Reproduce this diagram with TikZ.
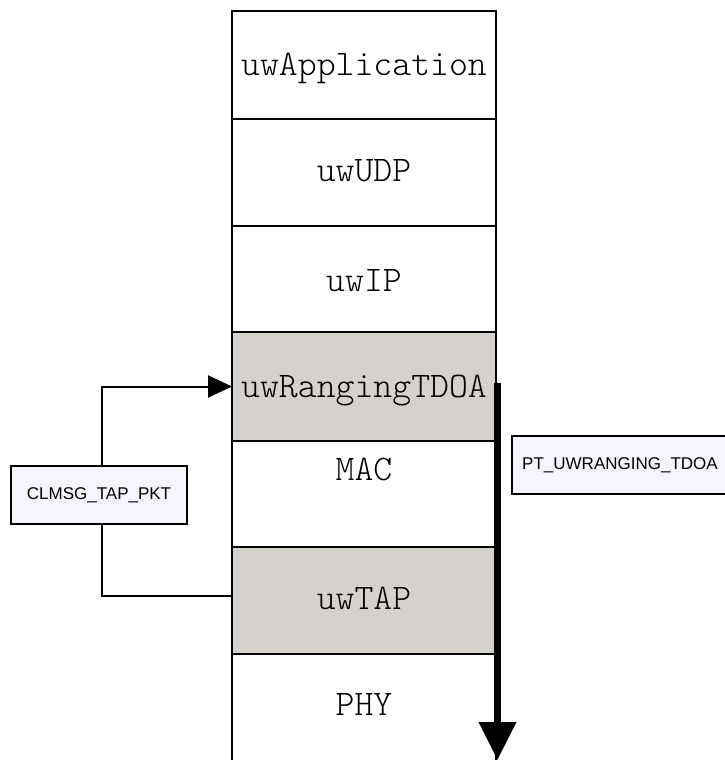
\documentclass[tikz,border=0pt]{standalone}
\usepackage{fontspec}
\setmainfont{Liberation Sans}
\usetikzlibrary{arrows.meta,calc}
\definecolor{layergray}{HTML}{D5D1CD}
\definecolor{tagfill}{HTML}{F4F5FD}
\tikzset{
  layer/.style={draw=black, line width=2.5pt, fill=white, minimum width=264pt, inner sep=0pt, outer sep=0pt},
  shaded/.style={layer, fill=layergray},
  layertext/.style={anchor=base, font=\ttfamily\fontseries{l}\fontsize{36}{38}\selectfont, inner sep=0pt},
  tag/.style={draw=black, line width=2pt, fill=tagfill, minimum height=58pt, inner sep=0pt, font=\fontsize{17}{20}\selectfont},
  conn/.style={line width=2pt, -{Triangle[length=24pt,width=22pt]}},
  plain/.style={line width=2pt},
  flow/.style={line width=7pt, -{Triangle[length=38pt,width=36pt]}}
}
\begin{document}
\begin{tikzpicture}[x=1pt,y=-1pt]
  \useasboundingbox (0,0) rectangle (725,760);
  \clip (0,0) rectangle (725,760);
  % protocol stack
  \node[layer,  minimum height=108pt] (app)   at (364,65)    {};
  \node[layer,  minimum height=107pt] (udp)   at (364,172.5) {};
  \node[layer,  minimum height=106pt] (ip)    at (364,279)   {};
  \node[shaded, minimum height=109pt] (rtdoa) at (364,386.5) {};
  \node[layer,  minimum height=106pt] (mac)   at (364,494)   {};
  \node[shaded, minimum height=107pt] (tap)   at (364,600.5) {};
  \node[layer,  minimum height=126pt] (phy)   at (364,717)   {};
  % layer names
  \node[layertext] (tapp)   at (364,75)  {uwApplication};
  \node[layertext] (tudp)   at (364,181) {uwUDP};
  \node[layertext] (tip)    at (364,291) {uwIP};
  \node[layertext] (trtdoa) at (364,397) {uwRangingTDOA};
  \node[layertext] (tmac)   at (364,480) {MAC};
  \node[layertext] (ttap)   at (364,609) {uwTAP};
  \node[layertext] (tphy)   at (364,715) {PHY};
  % packet type tags
  \node[tag, minimum width=176pt] (clmsg) at (99,495)  {CLMSG\_TAP\_PKT};
  \node[tag, minimum width=216pt] (ptype) at (620,465) {PT\_UWRANGING\_TDOA};
  % cross-layer message path
  \draw[conn]  ([xshift=3pt]clmsg.north) |- (rtdoa.west);
  \draw[plain] ([xshift=3pt]clmsg.south) |- ([yshift=5pt]tap.west);
  % packet flow down the stack
  \coordinate (flowstart) at (497.5,383);
  \coordinate (flowend)   at (497.5,760);
  \draw[flow] (flowstart) -- (flowend);
\end{tikzpicture}
\end{document}
